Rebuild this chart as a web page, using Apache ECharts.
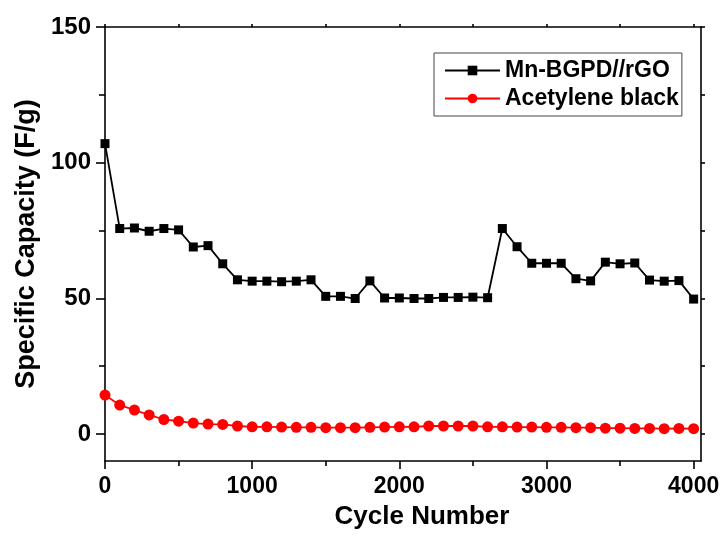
<!DOCTYPE html>
<html>
<head>
<meta charset="utf-8">
<script src="https://cdn.jsdelivr.net/npm/echarts@6/dist/echarts.min.js"></script>
<style>
  html, body { margin: 0; padding: 0; background: #fff; }
  #chart { width: 725px; height: 536px; }
</style>
</head>
<body>
<div id="chart"></div>
<script>
// Cycle numbers at which capacity was measured
const cycles = [0, 100, 200, 300, 400, 500, 600, 700, 800, 900,
  1000, 1100, 1200, 1300, 1400, 1500, 1600, 1700, 1800, 1900,
  2000, 2100, 2200, 2300, 2400, 2500, 2600, 2700, 2800, 2900,
  3000, 3100, 3200, 3300, 3400, 3500, 3600, 3700, 3800, 3900, 4000];

// Specific capacity (F/g)
const mnBgpd = [107, 75.7, 75.9, 74.7, 75.7, 75.2, 68.9, 69.4, 62.7, 56.8,
  56.3, 56.3, 56.1, 56.3, 56.8, 50.7, 50.7, 49.9, 56.4, 50.1,
  50.1, 49.9, 49.9, 50.3, 50.3, 50.4, 50.2, 75.7, 69.0, 62.9,
  62.9, 62.9, 57.2, 56.4, 63.3, 62.7, 63.0, 56.7, 56.3, 56.5, 49.7];

const acetylene = [14.3, 10.6, 8.8, 7.0, 5.3, 4.7, 4.0, 3.6, 3.5, 2.9,
  2.6, 2.6, 2.5, 2.4, 2.4, 2.3, 2.3, 2.3, 2.4, 2.5,
  2.6, 2.6, 2.9, 2.9, 2.9, 2.9, 2.6, 2.6, 2.5, 2.5,
  2.4, 2.4, 2.3, 2.3, 2.1, 2.1, 2.0, 2.0, 1.9, 2.0, 1.9];

// Tick positions
const xMajor = [0, 1000, 2000, 3000, 4000];
const xMinor = [500, 1500, 2500, 3500];
const xTop = [0, 500, 1000, 1500, 2000, 2500, 3000, 3500, 4000];
const yMajor = [0, 50, 100, 150];
const yMinor = [25, 75, 125];
const yRight = [0, 25, 50, 75, 100, 125, 150];

const FONT = '"Liberation Sans", Arial, sans-serif';
const X_RANGE = { min: 0, max: 4050 };
const Y_RANGE = { min: -10, max: 150 };
const lineStyle = { color: '#000', width: 1.6 };
const plain = (v) => String(v);

const pairs = (ys) => cycles.map((c, i) => [c, ys[i]]);

const chart = echarts.init(document.getElementById('chart'), null, { renderer: 'canvas' });

chart.setOption({
  backgroundColor: '#fff',
  animation: false,
  grid: { left: 105, right: 24, top: 27, bottom: 75 },
  legend: {
    orient: 'vertical',
    left: 434,
    top: 53,
    padding: [6, 3, 6, 10],
    itemGap: 5,
    itemWidth: 55,
    itemHeight: 12,
    borderColor: '#444',
    borderWidth: 1,
    textStyle: { fontFamily: FONT, fontWeight: 'bold', fontSize: 23, color: '#000', lineHeight: 23 },
    data: ['Mn-BGPD//rGO', 'Acetylene black']
  },
  xAxis: [
    {
      type: 'value', position: 'bottom', ...X_RANGE,
      name: 'Cycle Number', nameLocation: 'middle', nameGap: 43,
      nameTextStyle: { fontFamily: FONT, fontWeight: 'bold', fontSize: 26, color: '#000', padding: [0, 0, 0, 38] },
      axisLine: { show: true, onZero: false, lineStyle },
      axisTick: { show: true, inside: false, length: 8, lineStyle, customValues: xMajor },
      axisLabel: { fontFamily: FONT, fontWeight: 'bold', fontSize: 23, color: '#000', margin: 14, customValues: xMajor, formatter: plain },
      splitLine: { show: false }
    },
    {
      type: 'value', position: 'bottom', ...X_RANGE,
      axisLine: { show: false, onZero: false },
      axisTick: { show: true, inside: false, length: 5, lineStyle, customValues: xMinor },
      axisLabel: { show: false },
      splitLine: { show: false }
    },
    {
      type: 'value', position: 'top', ...X_RANGE,
      axisLine: { show: true, onZero: false, lineStyle },
      axisTick: { show: true, inside: false, length: 3, lineStyle, customValues: xTop },
      axisLabel: { show: false },
      splitLine: { show: false }
    }
  ],
  yAxis: [
    {
      type: 'value', position: 'left', ...Y_RANGE,
      name: 'Specific Capacity (F/g)', nameLocation: 'middle', nameGap: 58, nameRotate: 90,
      nameTextStyle: { fontFamily: FONT, fontWeight: 'bold', fontSize: 27, color: '#000' },
      axisLine: { show: true, onZero: false, lineStyle },
      axisTick: { show: true, inside: false, length: 9, lineStyle, customValues: yMajor },
      axisLabel: { fontFamily: FONT, fontWeight: 'bold', fontSize: 24, color: '#000', margin: 14, customValues: yMajor, formatter: plain },
      splitLine: { show: false }
    },
    {
      type: 'value', position: 'left', ...Y_RANGE,
      axisLine: { show: false, onZero: false },
      axisTick: { show: true, inside: false, length: 6, lineStyle, customValues: yMinor },
      axisLabel: { show: false },
      splitLine: { show: false }
    },
    {
      type: 'value', position: 'right', ...Y_RANGE,
      axisLine: { show: true, onZero: false, lineStyle },
      axisTick: { show: true, inside: false, length: 4, lineStyle, customValues: yRight },
      axisLabel: { show: false },
      splitLine: { show: false }
    }
  ],
  series: [
    {
      name: 'Mn-BGPD//rGO',
      type: 'line',
      data: pairs(mnBgpd),
      symbol: 'rect',
      symbolSize: 9,
      itemStyle: { color: '#000' },
      lineStyle: { color: '#000', width: 1.8 },
      z: 3
    },
    {
      name: 'Acetylene black',
      type: 'line',
      data: pairs(acetylene),
      symbol: 'circle',
      symbolSize: 11,
      itemStyle: { color: '#ff0000' },
      lineStyle: { color: '#ff0000', width: 1.8 },
      z: 2
    }
  ]
});
</script>
</body>
</html>
